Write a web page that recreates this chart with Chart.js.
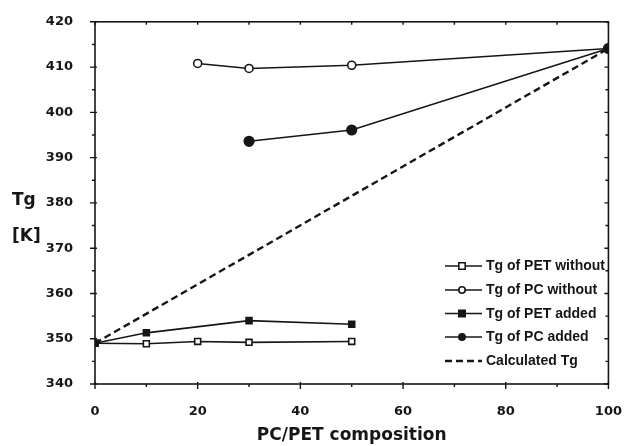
<!DOCTYPE html>
<html>
<head>
<meta charset="utf-8">
<script src="https://cdn.jsdelivr.net/npm/chart.js@4/dist/chart.umd.min.js"></script>
<style>
html,body{margin:0;padding:0;background:#fff;}
#wrap{width:634px;height:446px;position:relative;}
</style>
</head>
<body>
<div id="wrap"><canvas id="c" width="634" height="446"></canvas></div>
<script>
// ---- data ----
const petWithoutX = [0, 10, 20, 30, 50];
const petWithoutY = [349.0, 348.9, 349.4, 349.2, 349.4];
const pcWithoutX  = [20, 30, 50, 100];
const pcWithoutY  = [410.8, 409.7, 410.4, 414.1];
const petAddedX   = [0, 10, 30, 50];
const petAddedY   = [349.0, 351.3, 354.0, 353.2];
const pcAddedX    = [30, 50, 100];
const pcAddedY    = [393.6, 396.1, 414.1];
const calcX       = [0, 100];
const calcY       = [349.0, 414.1];
const seriesNames = ['Tg of PET without', 'Tg of PC without', 'Tg of PET added', 'Tg of PC added', 'Calculated Tg'];
const xTicks = [0, 20, 40, 60, 80, 100];
const yTicks = [340, 350, 360, 370, 380, 390, 400, 410, 420];
const xTitle = 'PC/PET composition';
const yTitle = ['Tg', '[K]'];

const INK = '#161616';
const pts = (xs, ys) => xs.map((x, i) => ({x: x, y: ys[i]}));

const datasets = [
  {label: seriesNames[0], data: pts(petWithoutX, petWithoutY), order: 3, pointStyle: 'rect', pointRadius: 4.2, pointBackgroundColor: '#fff', borderDash: []},
  {label: seriesNames[1], data: pts(pcWithoutX, pcWithoutY), order: 3, pointStyle: 'circle', pointRadius: 4, pointBackgroundColor: '#fff', borderDash: []},
  {label: seriesNames[2], data: pts(petAddedX, petAddedY), order: 1, pointStyle: 'rect', pointRadius: 4.2, pointBackgroundColor: INK, borderDash: []},
  {label: seriesNames[3], data: pts(pcAddedX, pcAddedY), order: 0, pointStyle: 'circle', pointRadius: 4.8, pointBackgroundColor: INK, borderDash: []},
  {label: seriesNames[4], data: pts(calcX, calcY), order: 2, pointStyle: false, pointRadius: 0, pointBackgroundColor: INK, borderDash: [7, 4], borderWidth: 2.4}
].map(d => Object.assign({
  borderColor: INK, borderWidth: 1.6, pointBorderColor: INK, pointBorderWidth: 1.6,
  tension: 0, fill: false, showLine: true
}, d));

// frame, ticks, legend, y title
const decor = {
  id: 'decor',
  afterDatasetsDraw(chart) {
    const ctx = chart.ctx;
    const a = chart.chartArea;
    const xs = chart.scales.x, ys = chart.scales.y;
    ctx.save();
    ctx.strokeStyle = INK;
    ctx.lineWidth = 1.6;
    ctx.strokeRect(a.left, a.top, a.right - a.left, a.bottom - a.top);
    ctx.lineWidth = 1.4;
    ctx.beginPath();
    for (let v = 340; v <= 420; v += 5) {
      const y = ys.getPixelForValue(v);
      const major = v % 10 === 0;
      ctx.moveTo(a.left - (major ? 5 : 3), y); ctx.lineTo(a.left + (major ? 2 : 0), y);
      ctx.moveTo(a.right, y); ctx.lineTo(a.right - (major ? 4 : 3), y);
    }
    for (let v = 0; v <= 100; v += 10) {
      const x = xs.getPixelForValue(v);
      const major = v % 20 === 0;
      ctx.moveTo(x, a.bottom + (major ? 5 : 3)); ctx.lineTo(x, a.bottom - (major ? 2 : 0));
      ctx.moveTo(x, a.top); ctx.lineTo(x, a.top + 3);
    }
    ctx.stroke();

    // legend
    const rowY = [266, 290, 313.5, 337, 361];
    const lx0 = 445, lx1 = 482, mx = 462;
    ctx.font = 'bold 14px "Liberation Sans", Arial, sans-serif';
    ctx.textBaseline = 'middle';
    ctx.textAlign = 'left';
    chart.data.datasets.forEach((ds, i) => {
      const y = rowY[i];
      ctx.save();
      ctx.strokeStyle = ds.borderColor;
      ctx.lineWidth = ds.borderWidth;
      ctx.setLineDash(ds.borderDash || []);
      ctx.beginPath(); ctx.moveTo(lx0, y); ctx.lineTo(lx1, y); ctx.stroke();
      ctx.setLineDash([]);
      if (ds.pointStyle) {
        ctx.fillStyle = ds.pointBackgroundColor;
        ctx.lineWidth = ds.pointBorderWidth;
        ctx.beginPath();
        if (ds.pointStyle === 'rect') {
          const s = 3.2;
          ctx.rect(mx - s, y - s, 2 * s, 2 * s);
        } else {
          ctx.arc(mx, y, 3.2, 0, Math.PI * 2);
        }
        ctx.fill(); ctx.stroke();
      }
      ctx.fillStyle = INK;
      ctx.fillText(ds.label, 486, y + 0.5);
      ctx.restore();
    });

    // y title
    ctx.fillStyle = INK;
    ctx.font = 'bold 17px "DejaVu Sans", sans-serif';
    ctx.textAlign = 'left';
    ctx.textBaseline = 'alphabetic';
    ctx.fillText(yTitle[0], 12, 205);
    ctx.fillText(yTitle[1], 12, 241);
    ctx.restore();
  }
};

new Chart(document.getElementById('c'), {
  type: 'scatter',
  data: {datasets: datasets},
  options: {
    responsive: false,
    animation: false,
    events: [],
    layout: {padding: {left: 0, right: 15, top: 17, bottom: 0}},
    plugins: {legend: {display: false}, tooltip: {enabled: false}},
    scales: {
      x: {
        type: 'linear', min: 0, max: 100,
        afterBuildTicks: s => { s.ticks = xTicks.map(v => ({value: v})); },
        grid: {display: false}, border: {display: false},
        ticks: {color: INK, padding: 12, font: {family: '"DejaVu Sans", sans-serif', weight: 'bold', size: 13}},
        title: {display: true, text: xTitle, color: INK, padding: {top: 12, bottom: 0},
                font: {family: '"DejaVu Sans", sans-serif', weight: 'bold', size: 17}},
        afterFit: s => { s.height = 62; }
      },
      y: {
        type: 'linear', min: 340, max: 420,
        afterBuildTicks: s => { s.ticks = yTicks.map(v => ({value: v})); },
        grid: {display: false}, border: {display: false},
        ticks: {color: INK, padding: 14, font: {family: '"DejaVu Sans", sans-serif', weight: 'bold', size: 13}},
        afterFit: s => { s.width = 95; }
      }
    }
  },
  plugins: [decor]
});
</script>
</body>
</html>
